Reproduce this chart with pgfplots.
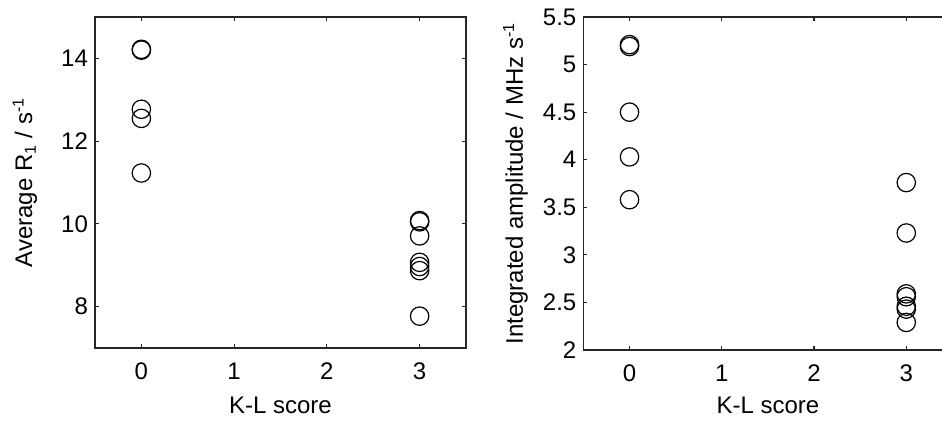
\documentclass[border=0pt]{standalone}
\usepackage{fontspec}
\setmainfont{Liberation Sans}
\usepackage{pgfplots}
\pgfplotsset{compat=1.18}
\pgfplotsset{kl/.style={
  scale only axis,
  xmin=-0.5, xmax=3.5, xtick={0,1,2,3},
  tick align=inside, major tick length=2pt,
  xtick pos=both, ytick pos=both,
  axis line style={line width=0.55pt, black!85},
  every tick/.style={black!85, line width=0.55pt},
  font=\fontsize{12}{14}\selectfont,
  /pgf/number format/assume math mode=true,
  xticklabel style={anchor=center, yshift=-11.4pt},
  xlabel={K-L score},
  xlabel style={anchor=center},
  ylabel style={anchor=center},
  clip=false,
}}
\begin{document}
\begin{tikzpicture}
\clip (0,0) rectangle (471pt,210pt);
\useasboundingbox (0,0) rectangle (471pt,210pt);
\begin{axis}[kl, at={(47.5pt,36pt)}, anchor=south west,
  width=185.5pt, height=165.5pt,
  ymin=7, ymax=15, ytick={8,10,12,14},
  xlabel style={at={(axis description cs:0.5,-0.172)}},
  ylabel={Average R\textsubscript{1} / s\textsuperscript{-1}},
  ylabel style={at={(axis description cs:-0.189,0.5)}},
]
\addplot[only marks, mark=o, mark size=4.6pt, mark options={line width=0.6pt, black}] coordinates {
 (0,14.22) (0,14.20) (0,12.77) (0,12.55) (0,11.23)
 (3,10.08) (3,10.05) (3,9.71) (3,9.07) (3,8.97) (3,8.87) (3,7.77)
};
\end{axis}
\begin{axis}[kl, at={(291.7pt,35pt)}, anchor=south west,
  width=184.5pt, height=166.5pt,
  ymin=2, ymax=5.5, ytick={2,2.5,3,3.5,4,4.5,5,5.5},
  xlabel style={at={(axis description cs:0.5,-0.165)}},
  ylabel={Integrated amplitude / MHz s\textsuperscript{-1}},
  ylabel style={at={(axis description cs:-0.184,0.5)}},
]
\addplot[only marks, mark=o, mark size=4.6pt, mark options={line width=0.6pt, black}] coordinates {
 (0,5.21) (0,5.19) (0,4.50) (0,4.03) (0,3.58)
 (3,3.76) (3,3.23) (3,2.59) (3,2.56) (3,2.46) (3,2.43) (3,2.29)
};
\end{axis}
\end{tikzpicture}
\end{document}
